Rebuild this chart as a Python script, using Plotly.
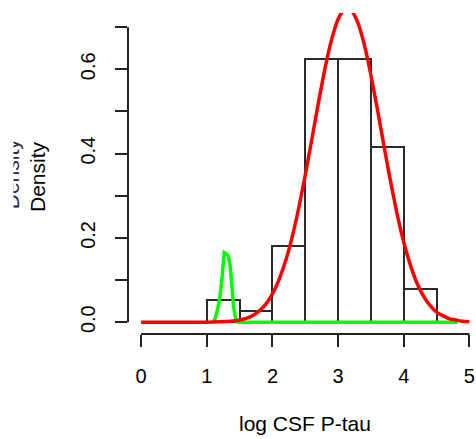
import plotly.graph_objects as go

# Histogram (log CSF P-tau), bins of width 0.5
breaks = [1.0, 1.5, 2.0, 2.5, 3.0, 3.5, 4.0, 4.5]
counts = [2, 1, 7, 24, 24, 16, 3]

# Green component density
green_x = [1.10, 1.13, 1.17, 1.20, 1.23, 1.265, 1.30, 1.33, 1.357, 1.38, 1.41, 1.44, 1.47, 4.82]
green_y = [0.000, 0.010, 0.035, 0.061, 0.100, 0.165, 0.162, 0.156, 0.132, 0.077, 0.035, 0.008, 0.000, 0.000]

# Red component density
red_x = [0.0, 0.5, 1.0, 1.2, 1.4, 1.5, 1.6, 1.7, 1.8, 1.9, 2.0, 2.1, 2.2, 2.3, 2.4, 2.5,
         2.6, 2.7, 2.8, 2.9, 3.0, 3.1, 3.2, 3.3, 3.4, 3.5, 3.6, 3.7, 3.8, 3.9, 4.0,
         4.1, 4.2, 4.3, 4.4, 4.5, 4.6, 4.7, 4.8, 4.9, 5.0]
red_y = [0.000, 0.000, 0.000, 0.001, 0.003, 0.005, 0.009, 0.016, 0.027, 0.043, 0.067,
         0.101, 0.145, 0.202, 0.271, 0.349, 0.434, 0.521, 0.602, 0.670, 0.719,
         0.744, 0.740, 0.711, 0.658, 0.586, 0.504, 0.417, 0.333, 0.256, 0.190,
         0.136, 0.093, 0.062, 0.040, 0.024, 0.015, 0.008, 0.005, 0.002, 0.001]

x_ticks = [0, 1, 2, 3, 4, 5]
y_ticks = [0.0, 0.1, 0.2, 0.3, 0.4, 0.5, 0.6, 0.7]
y_labels = ["0.0", "", "0.2", "", "0.4", "", "0.6", ""]

x_title = "log CSF P-tau"
y_title = "Density"

n = sum(counts)
widths = [b - a for a, b in zip(breaks[:-1], breaks[1:])]
centers = [(a + b) / 2 for a, b in zip(breaks[:-1], breaks[1:])]
density = [c / (n * w) for c, w in zip(counts, widths)]

FONT = "Liberation Sans, Arial, sans-serif"
AX = "#222222"

fig = go.Figure()
fig.add_trace(go.Bar(x=centers, y=density, width=widths,
                     marker=dict(color="rgba(0,0,0,0)", line=dict(color="#2a2a2a", width=2)),
                     showlegend=False))
fig.add_trace(go.Scatter(x=green_x, y=green_y, mode="lines",
                         line=dict(color="#00ff00", width=3.5), showlegend=False))
fig.add_trace(go.Scatter(x=red_x, y=red_y, mode="lines",
                         line=dict(color="#ff0000", width=3.5, shape="spline", smoothing=0.5),
                         showlegend=False))

fig.update_layout(
    width=476, height=439,
    margin=dict(l=128, r=0, t=12.5, b=104.5),
    paper_bgcolor="white", plot_bgcolor="white",
    font=dict(family=FONT, size=20, color="#000"),
    bargap=0,
    xaxis=dict(range=[-0.2, 5.1], tickvals=x_ticks, ticktext=[str(v) for v in x_ticks],
               showgrid=False, zeroline=False, showline=False,
               ticks="outside", ticklen=12, tickwidth=2, tickcolor=AX,
               ticklabelstandoff=12, tickfont=dict(size=20)),
    yaxis=dict(range=[-0.028, 0.7337], tickvals=y_ticks, ticktext=y_labels,
               showgrid=False, zeroline=False, showline=False,
               ticks="outside", ticklen=12, tickwidth=2, tickcolor=AX,
               tickangle=-90, ticklabelstandoff=12, tickfont=dict(size=20)),
    shapes=[
        dict(type="line", xref="x", yref="paper", x0=x_ticks[0], x1=x_ticks[-1], y0=0, y1=0,
             line=dict(color=AX, width=2)),
        dict(type="line", xref="paper", yref="y", x0=0, x1=0, y0=y_ticks[0], y1=y_ticks[-1],
             line=dict(color=AX, width=2)),
    ],
    annotations=[
        dict(text=x_title, xref="x", yref="paper", x=2.5, y=-0.278, showarrow=False,
             xanchor="center", yanchor="middle", font=dict(size=21)),
        # faint duplicated label partly hidden, as in the reference
        dict(text=y_title, xref="paper", yref="paper", x=-0.334, y=0.5, showarrow=False,
             textangle=-90, xanchor="center", yanchor="middle", font=dict(size=21, color="#302040")),
        dict(text=" ", xref="paper", yref="paper", x=-0.3489, y=0.5, showarrow=False,
             width=13, height=110, bgcolor="white", borderpad=0,
             xanchor="center", yanchor="middle"),
        dict(text=y_title, xref="paper", yref="paper", x=-0.26, y=0.4907, showarrow=False,
             textangle=-90, xanchor="center", yanchor="middle", font=dict(size=21)),
    ],
)

fig.write_html("out.html")
